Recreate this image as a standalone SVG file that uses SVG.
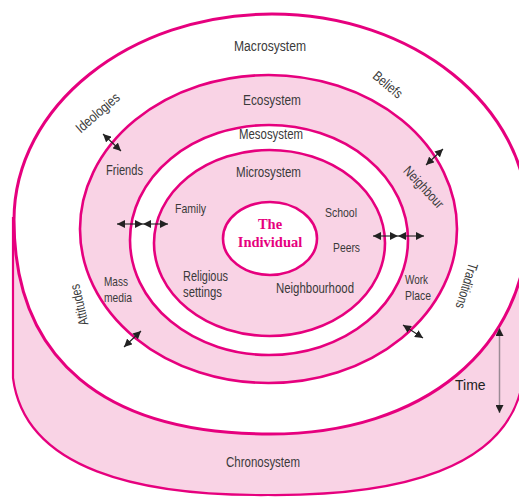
<svg xmlns="http://www.w3.org/2000/svg" width="519" height="499" viewBox="0 0 519 499">
<defs>
<style>
.ring{stroke:#e6007e;stroke-width:2.6}
.pink{fill:#f9d3e5}
.white{fill:#ffffff}
.lbl{font-family:"Liberation Sans",Arial,sans-serif;font-size:14px;fill:#3a3a3a}
.sm{font-size:13.5px}
.ind{font-family:"Liberation Serif","Times New Roman",serif;font-size:14.5px;font-weight:bold;fill:#e6007e;text-anchor:middle}
.arr{stroke:#222;stroke-width:1.1;fill:none;marker-start:url(#ah);marker-end:url(#ah)}
</style>
<marker id="ah" viewBox="0 0 8 8" refX="8" refY="4" markerWidth="8" markerHeight="8" markerUnits="userSpaceOnUse" orient="auto-start-reverse">
<path d="M0,0 L8,4 L0,8 z" fill="#222"/>
</marker>
</defs>
<rect width="519" height="499" fill="#ffffff"/>

<g id="chronosystem">
<path d="M13,217 L13,378 C25,470 140,496 268,495 C396,496 511,470 523,378 L523,217 Z" class="pink"/>
<path d="M13,217 L13,378 C25,470 140,496 268,495 C396,496 511,470 523,378 L523,217" fill="none" stroke="#e6007e" stroke-width="2.2"/>
<text class="lbl" x="226" y="467" textLength="74" lengthAdjust="spacingAndGlyphs">Chronosystem</text>
</g>

<g id="macrosystem">
<path d="M272,14 C129.5,14 14,106 14,220 C14,359 104,434 270,434 C424,434 528,348 528,220 C528,106 413,14 272,14 Z" class="white" stroke="#e6007e" stroke-width="3"/>
<text class="lbl" x="234" y="51" textLength="72" lengthAdjust="spacingAndGlyphs">Macrosystem</text>
<text class="lbl" transform="translate(97.5,112.5) rotate(-41)" text-anchor="middle" dominant-baseline="central" textLength="53" lengthAdjust="spacingAndGlyphs">Ideologies</text>
<text class="lbl" transform="translate(388,84.5) rotate(40)" text-anchor="middle" dominant-baseline="central" textLength="34" lengthAdjust="spacingAndGlyphs">Beliefs</text>
<text class="lbl" transform="translate(79,305) rotate(-103)" text-anchor="middle" dominant-baseline="central" textLength="42" lengthAdjust="spacingAndGlyphs">Attitudes</text>
<text class="lbl" transform="translate(467,286) rotate(107)" text-anchor="middle" dominant-baseline="central" textLength="47" lengthAdjust="spacingAndGlyphs">Traditions</text>
</g>

<g id="ecosystem">
<ellipse cx="268.5" cy="229" rx="188.5" ry="154" class="ring pink"/>
<text class="lbl" x="243" y="105" textLength="58" lengthAdjust="spacingAndGlyphs">Ecosystem</text>
<text class="lbl" x="106" y="175" textLength="37" lengthAdjust="spacingAndGlyphs">Friends</text>
<text class="lbl sm" x="104" y="286" textLength="24" lengthAdjust="spacingAndGlyphs">Mass</text>
<text class="lbl sm" x="104" y="302" textLength="28" lengthAdjust="spacingAndGlyphs">media</text>
<text class="lbl" transform="translate(424,187) rotate(47)" text-anchor="middle" dominant-baseline="central" textLength="52" lengthAdjust="spacingAndGlyphs">Neighbour</text>
<text class="lbl sm" x="405" y="284" textLength="23" lengthAdjust="spacingAndGlyphs">Work</text>
<text class="lbl sm" x="405" y="300" textLength="26" lengthAdjust="spacingAndGlyphs">Place</text>
</g>

<g id="mesosystem">
<ellipse cx="269" cy="240" rx="139" ry="115" class="ring white"/>
<text class="lbl" x="239" y="139" textLength="64" lengthAdjust="spacingAndGlyphs">Mesosystem</text>
</g>

<g id="microsystem">
<ellipse cx="269.5" cy="243" rx="115.5" ry="93" class="ring pink"/>
<text class="lbl" x="236" y="177" textLength="65" lengthAdjust="spacingAndGlyphs">Microsystem</text>
<text class="lbl sm" x="175" y="213" textLength="31" lengthAdjust="spacingAndGlyphs">Family</text>
<text class="lbl sm" x="325" y="217" textLength="32" lengthAdjust="spacingAndGlyphs">School</text>
<text class="lbl sm" x="333" y="252" textLength="27" lengthAdjust="spacingAndGlyphs">Peers</text>
<text class="lbl" x="183" y="281" textLength="45" lengthAdjust="spacingAndGlyphs">Religious</text>
<text class="lbl" x="183" y="297" textLength="39" lengthAdjust="spacingAndGlyphs">settings</text>
<text class="lbl" x="276" y="293" textLength="78" lengthAdjust="spacingAndGlyphs">Neighbourhood</text>
</g>

<g id="individual">
<ellipse cx="270" cy="238.5" rx="47" ry="36.5" class="ring white"/>
<text class="ind" x="270" y="229">The</text>
<text class="ind" x="270" y="247">Individual</text>
</g>

<g id="time">
<line x1="499.5" y1="328" x2="499.5" y2="413" stroke="#9c8b96" stroke-width="1.5" marker-start="url(#ah)" marker-end="url(#ah)"/>
<text x="455" y="390" font-family="'Liberation Sans',Arial,sans-serif" font-size="14" fill="#222">Time</text>
</g>

<g id="connectors">
<line class="arr" x1="103" y1="134" x2="121" y2="151"/>
<line class="arr" x1="443" y1="149" x2="426" y2="165"/>
<line class="arr" x1="124" y1="347" x2="141" y2="331"/>
<line class="arr" x1="403" y1="325" x2="423" y2="338"/>
<line class="arr" x1="117" y1="224" x2="143" y2="224"/>
<line class="arr" x1="143" y1="224" x2="168" y2="224"/>
<line class="arr" x1="373" y1="236" x2="398" y2="236"/>
<line class="arr" x1="398" y1="236" x2="424" y2="236"/>
</g>
</svg>
